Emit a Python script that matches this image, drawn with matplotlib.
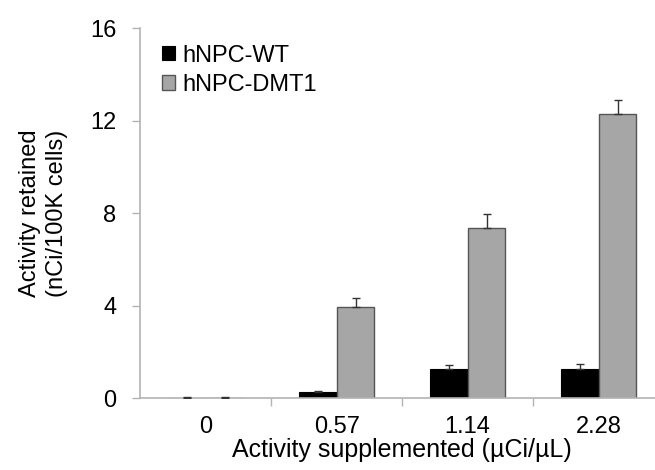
import numpy as np
import matplotlib.pyplot as plt

plt.rcParams['font.family'] = ['Liberation Sans', 'DejaVu Sans']

categories = ['0', '0.57', '1.14', '2.28']
wt_values = [0.02, 0.25, 1.26, 1.27]
wt_err = [0.03, 0.05, 0.18, 0.19]
dmt1_values = [0.02, 3.93, 7.35, 12.28]
dmt1_err = [0.03, 0.40, 0.60, 0.62]

fig = plt.figure(figsize=(6.55, 4.70), dpi=100)
ax = fig.add_axes([0.214, 0.153, 0.80, 0.787])

x = np.arange(len(categories))
w = 0.288
axis_col = '#b3b3b3'
fs = 17

ax.bar(x - w / 2, wt_values, w, color='black', edgecolor='black', linewidth=0.8,
       label='hNPC-WT', zorder=2)
ax.bar(x + w / 2, dmt1_values, w, color='#a6a6a6', edgecolor='#555555', linewidth=1.0,
       label='hNPC-DMT1', zorder=2)
ax.errorbar(x - w / 2, wt_values, yerr=[np.zeros(4), wt_err], fmt='none',
            ecolor='#333333', elinewidth=1.0, capsize=3, capthick=1.0, zorder=3)
ax.errorbar(x + w / 2, dmt1_values, yerr=[np.zeros(4), dmt1_err], fmt='none',
            ecolor='#333333', elinewidth=1.0, capsize=3, capthick=1.0, zorder=3)

ax.set_xlim(-0.5, 3.5)
ax.set_ylim(0, 16)
ax.set_yticks([0, 4, 8, 12, 16])
ax.set_xticks(x)
ax.set_xticklabels(categories)
ax.set_xticks(x[:-1] + 0.5, minor=True)
ax.tick_params(axis='x', which='major', length=0, pad=13, labelsize=fs)
ax.tick_params(axis='x', which='minor', length=6, color=axis_col, width=1)
ax.tick_params(axis='y', length=6, color=axis_col, width=1, labelsize=fs, pad=11)

for s in ['top', 'right']:
    ax.spines[s].set_visible(False)
for s in ['left', 'bottom']:
    ax.spines[s].set_color(axis_col)
    ax.spines[s].set_linewidth(1.2)

ax.set_xlabel('Activity supplemented (µCi/µL)', fontsize=18, labelpad=0)
ax.set_ylabel('Activity retained\n(nCi/100K cells)', fontsize=fs, labelpad=16, linespacing=1.3)

ax.legend(loc='upper left', bbox_to_anchor=(0.01, 1.0), frameon=False, fontsize=fs,
          handlelength=0.55, handleheight=0.55, handletextpad=0.3, labelspacing=0.3,
          borderpad=0.2)

fig.savefig('out.png', dpi=100)
